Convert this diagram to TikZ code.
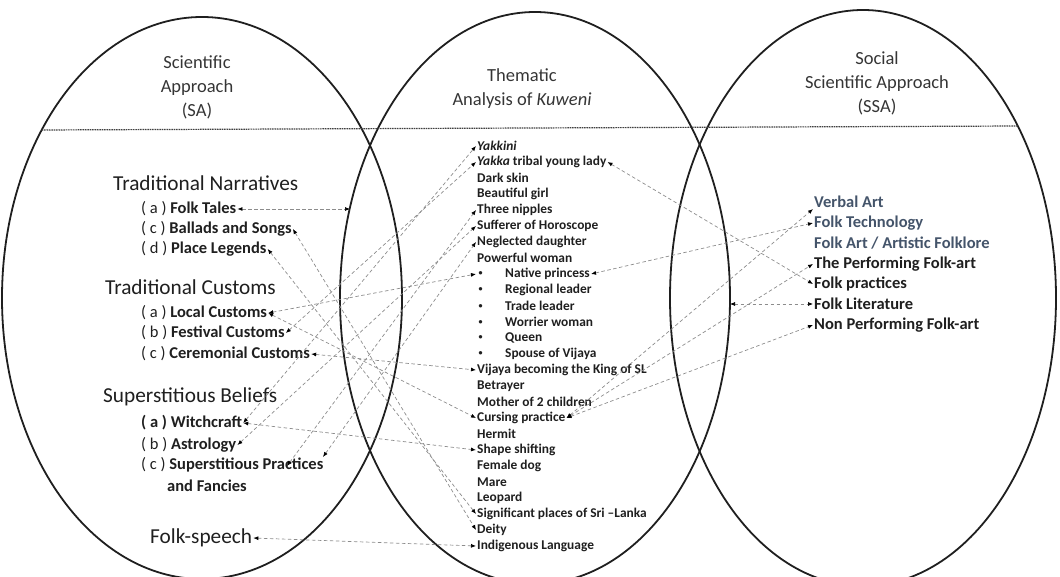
\documentclass[tikz,border=0pt]{standalone}
\usepackage{fontspec}
\setmainfont{Carlito}
\usetikzlibrary{arrows.meta}
\definecolor{slate}{HTML}{44546A}
\definecolor{txt}{HTML}{1F1F1F}
\definecolor{conngray}{HTML}{8C8C8C}
\tikzset{
  ell/.style={draw=txt, line width=1.8pt},
  sepline/.style={draw=txt!85, line width=1.2pt, dash pattern=on 1.6pt off 0.8pt},
  conn/.style={draw=conngray, line width=0.7pt, dash pattern=on 3.5pt off 2.5pt,
    {Latex[length=5pt,width=4pt,color=black]}-{Latex[length=5pt,width=4pt,color=black]}},
  title/.style={font=\fontsize{18.5}{24}\selectfont, align=center, text=txt!90},
  head/.style={font=\fontsize{21.3}{25}\selectfont, anchor=west, inner sep=1pt, text=txt},
  item/.style={font=\fontsize{16.5}{20}\selectfont, anchor=west, inner sep=1pt, text=txt},
  mid/.style={font=\bfseries\fontsize{13.4}{16}\selectfont, anchor=west, inner sep=1pt, text=txt},
  rgt/.style={font=\bfseries\fontsize{16.5}{20}\selectfont, anchor=west, inner sep=1pt, text=txt},
  rgtb/.style={rgt, text=slate}
}
\newcommand{\blt}[1]{\makebox[28pt][l]{\hspace{1.5pt}\raisebox{0.3ex}{\scalebox{0.6}{\textbullet}}}#1}
\begin{document}
\begin{tikzpicture}[x=1pt,y=-1pt]
\useasboundingbox (0,0) rectangle (1060,577);
% ellipses
\draw[ell] (202,298) ellipse [x radius=200pt, y radius=281pt];
\draw[ell] (535,298) ellipse [x radius=195pt, y radius=286pt];
\draw[ell] (863,298) ellipse [x radius=193pt, y radius=288pt];
% separator
\coordinate (sepL) at (41.7,130);
\coordinate (sepR) at (1017.8,126);
\draw[sepline] (sepL) -- (sepR);
% titles
\node[title] (t1) at (197,87) {Scientific\\Approach\\(SA)};
\node[title] (t2) at (522,89) {Thematic\\Analysis of \textit{Kuweni}};
\node[title] (t3) at (877,83) {Social\\Scientific Approach\\(SSA)};
% left column
\node[head] (tn) at (112,183) {Traditional Narratives};
\node[item] (fta) at (140,209) {( a ) \textbf{Folk Tales}};
\node[item] (bs) at (140,229) {( c ) \textbf{Ballads and Songs}};
\node[item] (pl) at (140,249) {( d ) \textbf{Place Legends}};
\node[head] (tc) at (104,287) {Traditional Customs};
\node[item] (lc) at (140,313) {( a ) \textbf{Local Customs}};
\node[item] (fc) at (140,333) {( b ) \textbf{Festival Customs}};
\node[item] (cc) at (140,354) {( c ) \textbf{Ceremonial Customs}};
\node[head] (sb) at (102,397) {Superstitious Beliefs};
\node[item] (wc) at (140,423) {\textbf{( a ) Witchcraft}};
\node[item] (as) at (140,445) {( b ) \textbf{Astrology}};
\node[item] (sp) at (140,465) {( c ) \textbf{Superstitious Practices}};
\node[item] (af) at (166,486) {\textbf{and Fancies}};
\node[head] (fs) at (149,538) {Folk-speech};
% middle column
\node[mid] (yki) at (476,146) {\textit{Yakkini}};
\node[mid] (yak) at (476,162) {\textit{Yakka} tribal young lady};
\node[mid] (dsk) at (476,178) {Dark skin};
\node[mid] (bgl) at (476,194) {Beautiful girl};
\node[mid] (tnp) at (476,210) {Three nipples};
\node[mid] (suf) at (476,226) {Sufferer of Horoscope};
\node[mid] (neg) at (476,242) {Neglected daughter};
\node[mid] (pww) at (476,258) {Powerful woman};
\node[mid] (npr) at (476,274) {\blt{Native princess}};
\node[mid] (rld) at (476,290) {\blt{Regional leader}};
\node[mid] (tld) at (476,306) {\blt{Trade leader}};
\node[mid] (wwm) at (476,322) {\blt{Worrier woman}};
\node[mid] (que) at (476,338) {\blt{Queen}};
\node[mid] (spv) at (476,354) {\blt{Spouse of Vijaya}};
\node[mid] (vij) at (476,370) {Vijaya becoming the King of SL};
\node[mid] (bet) at (476,386) {Betrayer};
\node[mid] (mot) at (476,402) {Mother of 2 children};
\node[mid] (cur) at (476,418) {Cursing practice};
\node[mid] (her) at (476,434) {Hermit};
\node[mid] (shp) at (476,450) {Shape shifting};
\node[mid] (fdg) at (476,466) {Female dog};
\node[mid] (mar) at (476,482) {Mare};
\node[mid] (leo) at (476,498) {Leopard};
\node[mid] (sig) at (476,514) {Significant places of Sri –Lanka};
\node[mid] (dei) at (476,530) {Deity};
\node[mid] (ind) at (476,546) {Indigenous Language};
% right column
\node[rgtb] (va) at (813,202) {Verbal Art};
\node[rgtb] (ftech) at (813,223) {Folk Technology};
\node[rgtb] (fa) at (813,243) {Folk Art / Artistic Folklore};
\node[rgt] (tp) at (813,264) {The Performing Folk-art};
\node[rgt] (fp) at (813,284) {Folk practices};
\node[rgt] (fl) at (813,304) {Folk Literature};
\node[rgt] (npf) at (813,325) {Non Performing Folk-art};
% free ends
\coordinate (ftEdge) at (350,209);
\coordinate (flEdge) at (730,304);
\coordinate (sp1) at (323,457);
\coordinate (sp2) at (287,466);
% connectors
\draw[conn] (fta.east) -- (ftEdge);
\draw[conn] (bs.east) -- (dei.west);
\draw[conn] (pl.east) -- (sig.west);
\draw[conn] (lc.east) -- (npr.west);
\draw[conn] (lc.east) -- (cur.west);
\draw[conn] (fc.east) -- (yak.west);
\draw[conn] (cc.east) -- (vij.west);
\draw[conn] (wc.east) -- (yki.west);
\draw[conn] (wc.east) -- (shp.west);
\draw[conn] (as.east) -- (suf.west);
\draw[conn] (sp1) -- (neg.west);
\draw[conn] (sp2) -- (tnp.west);
\draw[conn] (fs.east) -- (ind.west);
\draw[conn] (npr.east) -- (ftech.west);
\draw[conn] (yak.east) -- (fp.west);
\draw[conn] (cur.east) -- (va.south west);
\draw[conn] (cur.east) -- (tp.west);
\draw[conn] (cur.east) -- (npf.west);
\draw[conn] (flEdge) -- (fl.west);
\end{tikzpicture}
\end{document}
